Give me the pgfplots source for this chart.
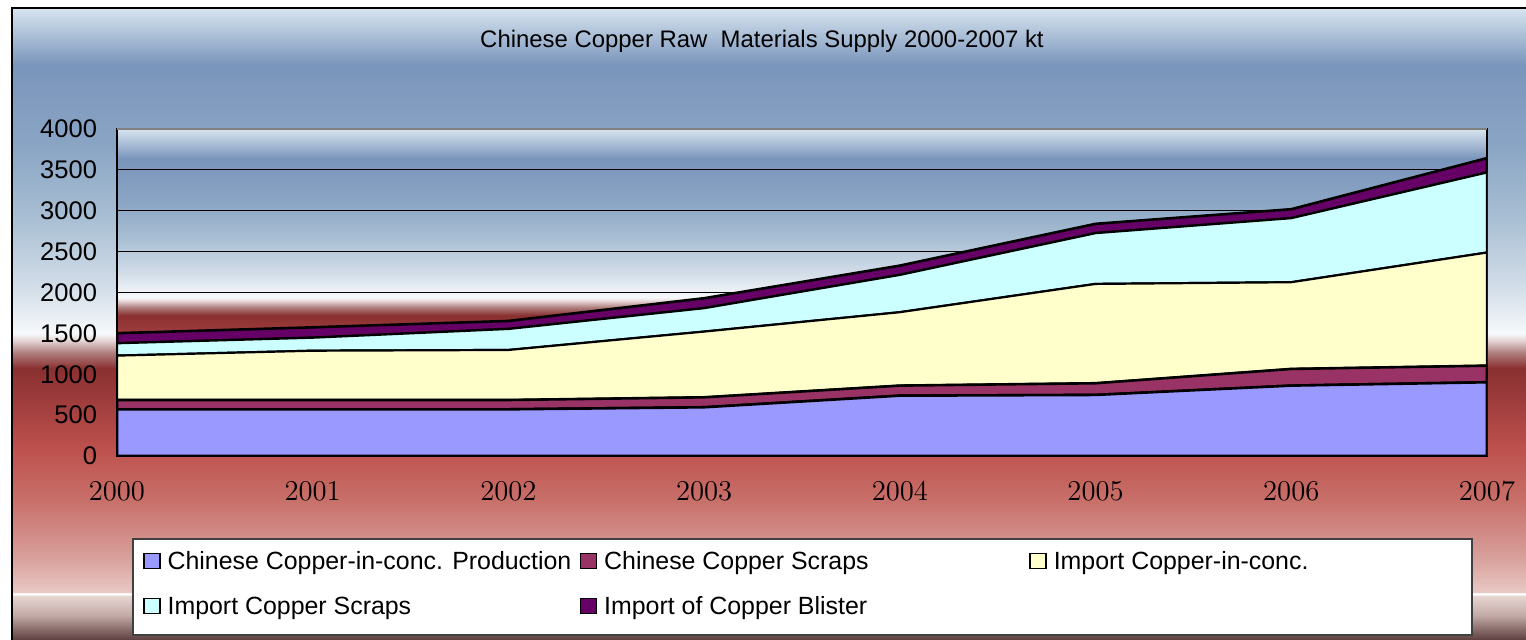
\documentclass[border=0pt]{standalone}
\usepackage{pgfplots}
\pgfplotsset{compat=1.18}
\usepackage{fontspec}
\newfontfamily\arial{Liberation Sans}
\definecolor{cBlue}{HTML}{9999FF}
\definecolor{cScrap}{HTML}{993366}
\definecolor{cConc}{HTML}{FFFFCC}
\definecolor{cImpScrap}{HTML}{CCFFFF}
\definecolor{cBlister}{HTML}{660066}
% gradient stops (bottom to top)
\definecolor{g00}{HTML}{5C3E3E}
\definecolor{g01}{HTML}{C4ACA8}
\definecolor{g02}{HTML}{E6D6D2}
\definecolor{g03}{HTML}{FFFFFF}
\definecolor{g04}{HTML}{E8C8C4}
\definecolor{g05}{HTML}{D8A09C}
\definecolor{g06}{HTML}{C8706A}
\definecolor{g07}{HTML}{BE524E}
\definecolor{g08}{HTML}{9E3C3C}
\definecolor{g09}{HTML}{8A3030}
\definecolor{g10}{HTML}{B08080}
\definecolor{g11}{HTML}{E8D8D8}
\definecolor{g12}{HTML}{F6F9FB}
\definecolor{g13}{HTML}{D2DDE8}
\definecolor{g14}{HTML}{A8BED3}
\definecolor{g15}{HTML}{8AA5C4}
\definecolor{g16}{HTML}{7A95BB}
\definecolor{g17}{HTML}{D8E5F0}
\pgfdeclareverticalshading{bgshade}{100bp}{%
color(0bp)=(g00); color(25bp)=(g00); color(27bp)=(g01); color(28.5bp)=(g02);
color(28.6bp)=(g03); color(28.7bp)=(g03); color(28.8bp)=(g04); color(31.5bp)=(g05);
color(36bp)=(g06); color(40bp)=(g07); color(44bp)=(g08); color(46.5bp)=(g09);
color(47.75bp)=(g10); color(48.75bp)=(g11); color(49.25bp)=(g12); color(53bp)=(g13);
color(58.5bp)=(g14); color(64bp)=(g15); color(70.5bp)=(g16); color(75bp)=(g17);
color(100bp)=(g17)}
\pgfplotsset{
  layers/mylayers/.define layer set={axis background, axis grid, pre main, main,
    axis ticks, axis lines, axis tick labels, axis descriptions, axis foreground}{},
}
\begin{document}
\begin{tikzpicture}
\fill[white] (0,0) rectangle (763bp,320bp);
\shade[shading=bgshade] (6bp,0) rectangle (763bp,316bp);
\draw[black, line width=0.6bp] (6bp,0) -- (6bp,316bp) -- (763bp,316bp);
\node[font=\arial\fontsize{12}{14}\selectfont] at (381bp,299.5bp) {Chinese Copper Raw\ \ Materials Supply 2000-2007 kt};
\fill[white, draw=black!75, line width=0.6bp] (66.5bp,2.5bp) rectangle (736bp,50.5bp);
\begin{axis}[
  set layers=mylayers,
  at={(58.5bp,92bp)}, anchor=south west,
  scale only axis, width=685bp, height=163.5bp,
  xmin=2000, xmax=2007, ymin=0, ymax=4000,
  xtick={2000,2001,2002,2003,2004,2005,2006,2007},
  ytick={0,500,1000,1500,2000,2500,3000,3500,4000},
  yticklabels={0,500,1000,1500,2000,2500,3000,3500,4000},
  xticklabel style={/pgf/number format/1000 sep={}, font=\fontsize{13.5}{14}\selectfont, inner sep=1bp, yshift=-12bp},
  yticklabel style={font=\arial\fontsize{12.8}{14}\selectfont, xshift=-6.5bp},
  tick pos=left, tick align=inside, major tick length=3bp,
  tick style={black, line width=0.5bp},
  ymajorgrids, grid style={black, line width=0.5bp},
  axis line style={black, line width=1bp},
  axis background/.style={shade, shading=bgshade},
  stack plots=y, no markers,
  legend image code/.code={\draw[#1, line width=0.8bp, draw=black] (0bp,-3.75bp) rectangle (8bp,3.75bp);},
  legend columns=3,
  legend cell align=left,
  legend style={at={(axis description cs:0.01898,-0.29358)}, anchor=north west,
    draw=none, fill=none, inner sep=0pt, outer sep=0pt,
    font=\arial\fontsize{12.5}{14}\selectfont,
    nodes={inner sep=0pt, text height=9bp, text depth=0pt},
    row sep=13.5bp,
    /tikz/every odd column/.style={column sep=3.5bp}},
]
\addplot[draw=black, line width=1.3bp, fill=cBlue] coordinates
  {(2000,571) (2001,571) (2002,571) (2003,596) (2004,738) (2005,747) (2006,861) (2007,902)} \closedcycle;
\addlegendentry{\makebox[206bp][l]{Chinese Copper-in-conc. Production}}
\addplot[draw=black, line width=1.3bp, fill=cScrap] coordinates
  {(2000,114) (2001,114) (2002,114) (2003,122) (2004,123) (2005,143) (2006,204) (2007,203)} \closedcycle;
\addlegendentry{\makebox[212.5bp][l]{Chinese Copper Scraps}}
\addplot[draw=black, line width=1.1bp, fill=cConc] coordinates
  {(2000,543) (2001,603) (2002,612) (2003,804) (2004,898) (2005,1215) (2006,1061) (2007,1384)} \closedcycle;
\addlegendentry{Import Copper-in-conc.}
\addplot[draw=black, line width=1.1bp, fill=cImpScrap] coordinates
  {(2000,151) (2001,159) (2002,257) (2003,286) (2004,456) (2005,621) (2006,783) (2007,979)} \closedcycle;
\addlegendentry{\makebox[206bp][l]{Import Copper Scraps}}
\addplot[draw=black, line width=1.3bp, fill=cBlister] coordinates
  {(2000,123) (2001,127) (2002,98) (2003,122) (2004,114) (2005,114) (2006,110) (2007,176)} \closedcycle;
\addlegendentry{\makebox[212.5bp][l]{Import of Copper Blister}}
\end{axis}
\draw[draw=black!50, line width=1bp] (58.5bp,255.5bp) -- (743.5bp,255.5bp);
\pgfresetboundingbox
\path[use as bounding box] (0,0) rectangle (763bp,320bp);
\end{tikzpicture}
\end{document}
